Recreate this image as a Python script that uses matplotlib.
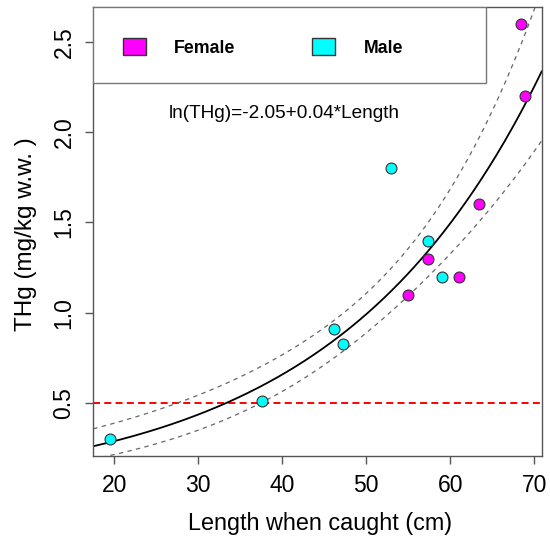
import numpy as np
import matplotlib
matplotlib.use('Agg')
import matplotlib.pyplot as plt
from matplotlib.patches import Patch, Rectangle

plt.rcParams['font.family'] = ['Liberation Sans', 'DejaVu Sans']

# fish data
female_len = [55.0, 57.3, 61.0, 63.4, 68.4, 68.9]
female_thg = [1.10, 1.30, 1.20, 1.60, 2.60, 2.20]
male_len = [19.5, 37.6, 46.2, 47.2, 53.0, 57.4, 59.0]
male_thg = [0.30, 0.51, 0.91, 0.83, 1.80, 1.40, 1.20]
limit_thg = 0.5
eq_text = 'ln(THg)=-2.05+0.04*Length'

x_all = np.array(female_len + male_len)
y_all = np.array(female_thg + male_thg)

# log-linear fit with 95% band
b, a = np.polyfit(x_all, np.log(y_all), 1)
n = len(x_all)
resid = np.log(y_all) - (a + b * x_all)
s = np.sqrt(np.sum(resid ** 2) / (n - 2))
sxx = np.sum((x_all - x_all.mean()) ** 2)

xr = x_all.max() - x_all.min()
yr = y_all.max() - y_all.min()
xlim = (x_all.min() - 0.04 * xr, x_all.max() + 0.04 * xr)
ylim = (y_all.min() - 0.04 * yr, y_all.max() + 0.04 * yr)

xs = np.linspace(xlim[0], xlim[1], 300)
eta = a + b * xs
se = s * np.sqrt(1.0 / n + (xs - x_all.mean()) ** 2 / sxx)

fig = plt.figure(figsize=(5.5, 5.37), dpi=100)
ax = fig.add_axes([0.1696, 0.1508, 0.8154, 0.8362])

ax.plot(xs, np.exp(eta), color='black', lw=1.3, zorder=2)
ax.plot(xs, np.exp(eta + 1.96 * se), color='#666666', lw=0.9, ls=(0, (3.5, 3.5)), zorder=2)
ax.plot(xs, np.exp(eta - 1.96 * se), color='#666666', lw=0.9, ls=(0, (3.5, 3.5)), zorder=2)
ax.axhline(limit_thg, color='red', lw=1.4, ls=(0, (3.6, 2.2)), zorder=1)

ax.scatter(male_len, male_thg, s=62, c='#00FFFF', edgecolors='#333333', linewidths=0.8, zorder=3)
ax.scatter(female_len, female_thg, s=62, c='#FF00FF', edgecolors='#333333', linewidths=0.8, zorder=3)

ax.text(40.2, 2.1, eq_text, ha='center', va='center', fontsize=13.7)

ax.set_xlim(xlim)
ax.set_ylim(ylim)
ax.set_xticks([20, 30, 40, 50, 60, 70])
ax.set_yticks([0.5, 1.0, 1.5, 2.0, 2.5])
ax.set_yticklabels(['0.5', '1.0', '1.5', '2.0', '2.5'])
ax.tick_params(axis='both', labelsize=16.5, length=5.8, width=1, color='#555555', pad=7)
ax.tick_params(axis='y', labelrotation=90)
for lab in ax.get_yticklabels():
    lab.set_va('center')
for sp in ax.spines.values():
    sp.set_color('#555555')
    sp.set_linewidth(1)

ax.set_xlabel('Length when caught (cm)', fontsize=16.8)
ax.set_ylabel('THg (mg/kg w.w. )', fontsize=17.5)
ax.xaxis.set_label_coords(0.505, -0.125)
ax.yaxis.set_label_coords(-0.126, 0.494)

# legend box at top-left
box_w = 392.7 / 448.4
box_h = 76 / 449
ax.add_patch(Rectangle((0, 1 - box_h), box_w, box_h, transform=ax.transAxes,
                       facecolor='white', edgecolor='#777777', lw=1, zorder=4))
handles = [Patch(facecolor='#FF00FF', edgecolor='#333333', label='Female'),
           Patch(facecolor='#00FFFF', edgecolor='#333333', label='Male')]
leg = ax.legend(handles=handles, ncol=2, loc='center left', frameon=False,
                bbox_to_anchor=(0, 1 - box_h - 0.005, box_w, box_h), borderaxespad=0,
                borderpad=1.65, handlelength=1.3, handleheight=1.1,
                handletextpad=1.6, columnspacing=4.3,
                prop={'weight': 'bold', 'size': 12.8})
leg.set_zorder(5)

fig.savefig('out.png', dpi=100)
